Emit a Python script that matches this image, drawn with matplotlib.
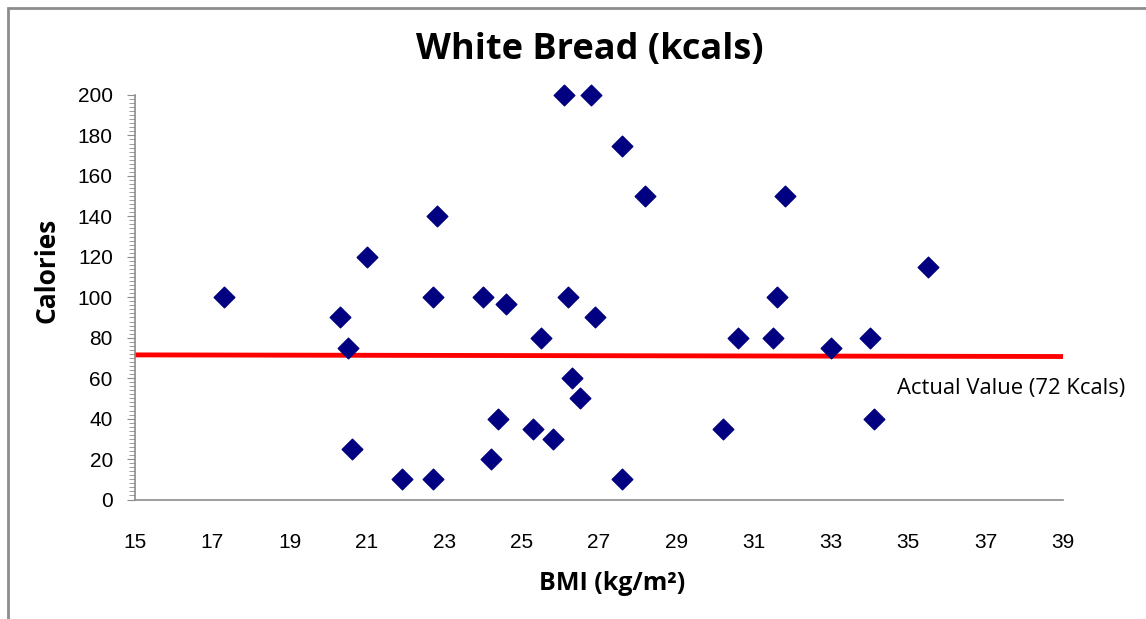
import numpy as np
import matplotlib.pyplot as plt
from matplotlib.patches import Rectangle
from matplotlib.ticker import MultipleLocator

# values
bmi = [17.3, 20.3, 20.5, 21.0, 22.8, 22.7, 24.0, 20.6, 21.9, 22.7,
       26.1, 26.8, 27.6, 28.2, 31.8, 24.6, 26.2, 26.9, 25.5, 30.6,
       31.5, 31.6, 26.3, 26.5, 24.4, 25.3, 25.8, 30.2, 24.2, 27.6,
       35.5, 33.0, 34.0, 34.1]
kcals = [100, 90, 75, 120, 140, 100, 100, 25, 10, 10,
         200, 200, 175, 150, 150, 96.5, 100, 90, 80, 80,
         80, 100, 60, 50, 40, 35, 30, 35, 20, 10,
         115, 75, 80, 40]

actual_x = [15, 39]
actual_y = [71.5, 70.7]

x_ticks = np.arange(15, 40, 2)
y_ticks = np.arange(0, 201, 20)

tick_font = ['Liberation Sans', 'DejaVu Sans']
label_font = ['Open Sans', 'DejaVu Sans']

fig = plt.figure(figsize=(11.46, 6.19), dpi=100)
fig.patches.append(Rectangle((8 / 1146, -0.1), 1.2, 1 - 8 / 619 + 0.1,
                             transform=fig.transFigure, fill=False,
                             edgecolor='#8c8c8c', linewidth=2))

ax = fig.add_axes([135 / 1146, 1 - 499.5 / 619, 928 / 1146, 404.5 / 619])

ax.scatter(bmi, kcals, marker='D', s=110, color='#000080', zorder=3, clip_on=False)
ax.plot(actual_x, actual_y, color='red', linewidth=3.5, zorder=2)
ax.text(34.7, 55, 'Actual Value (72 Kcals)', fontsize=15.8, ha='left', va='center',
        family=label_font)

ax.set_xlim(15, 39)
ax.set_ylim(0, 200)
ax.set_xticks(x_ticks)
ax.set_yticks(y_ticks)
ax.yaxis.set_minor_locator(MultipleLocator(2))
ax.tick_params(axis='x', length=0, pad=24, labelsize=15)
ax.tick_params(axis='y', which='major', length=6, color='#8c8c8c', labelsize=15, pad=10)
ax.tick_params(axis='y', which='minor', length=4, color='#8c8c8c')
for lbl in ax.get_xticklabels() + ax.get_yticklabels():
    lbl.set_family(tick_font)

for s in ['top', 'right']:
    ax.spines[s].set_visible(False)
for s in ['left', 'bottom']:
    ax.spines[s].set_color('#8c8c8c')
    ax.spines[s].set_linewidth(1.2)

fig.text(590 / 1146, 1 - 50 / 619, 'White Bread (kcals)', fontsize=26, fontweight='bold',
         ha='center', va='center', family=label_font)
fig.text(47 / 1146, 1 - 270 / 619, 'Calories', fontsize=19, fontweight='bold', rotation=90,
         ha='center', va='center', family=label_font)
fig.text(612 / 1146, 1 - 583 / 619, 'BMI (kg/m²)', fontsize=18, fontweight='bold',
         ha='center', va='center', family=label_font)

fig.savefig('out.png', dpi=100)
